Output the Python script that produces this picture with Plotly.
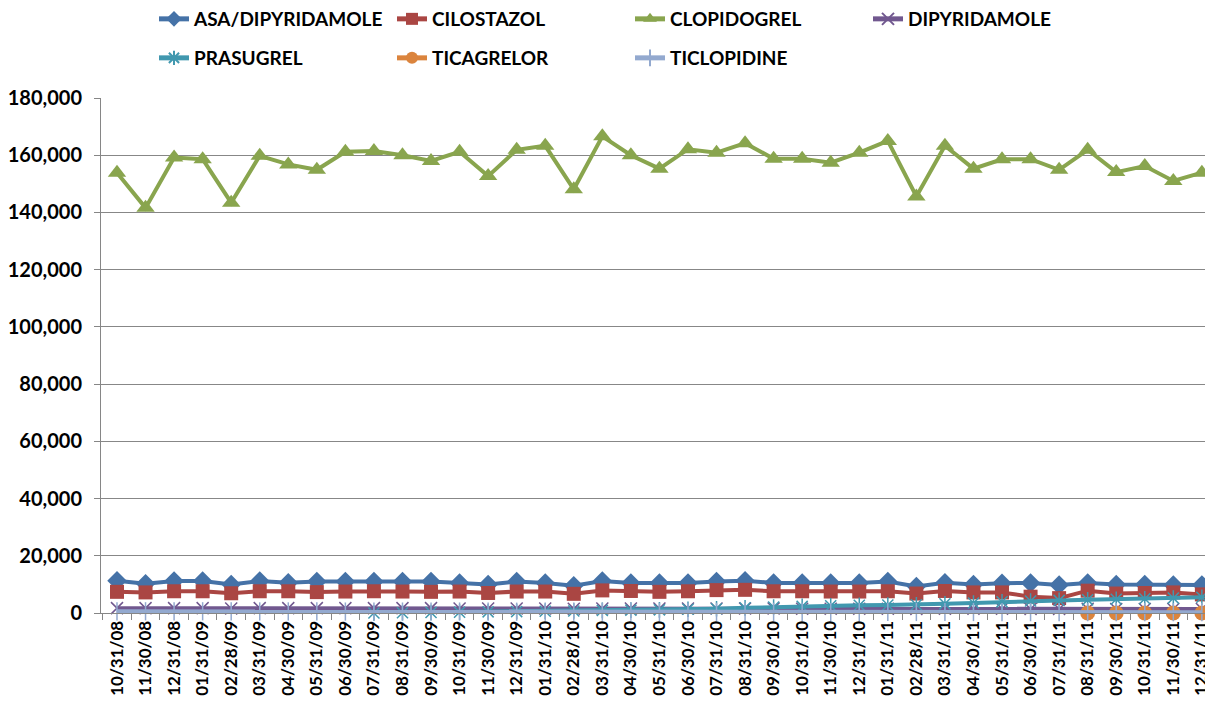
import plotly.graph_objects as go

dates = ['10/31/08', '11/30/08', '12/31/08', '01/31/09', '02/28/09', '03/31/09', '04/30/09',
         '05/31/09', '06/30/09', '07/31/09', '08/31/09', '09/30/09', '10/31/09', '11/30/09',
         '12/31/09', '01/31/10', '02/28/10', '03/31/10', '04/30/10', '05/31/10', '06/30/10',
         '07/31/10', '08/31/10', '09/30/10', '10/31/10', '11/30/10', '12/31/10', '01/31/11',
         '02/28/11', '03/31/11', '04/30/11', '05/31/11', '06/30/11', '07/31/11', '08/31/11',
         '09/30/11', '10/31/11', '11/30/11', '12/31/11']

asa_dipyridamole = [11300, 10200, 11200, 11200, 10000, 11200, 10600, 11000, 11000, 11000,
                    11000, 11000, 10500, 10000, 11000, 10500, 9500, 11200, 10500, 10500,
                    10500, 11000, 11300, 10500, 10500, 10500, 10500, 11000, 9300, 10600,
                    10000, 10400, 10500, 9800, 10500, 10000, 10000, 9800, 9800]
cilostazol = [7400, 7200, 7600, 7600, 6900, 7600, 7600, 7300, 7500, 7600,
              7500, 7400, 7500, 7000, 7500, 7500, 6700, 7900, 7700, 7400,
              7600, 8000, 8100, 7600, 7600, 7500, 7500, 7600, 6800, 7700,
              7200, 7200, 5700, 5200, 7800, 6800, 7000, 7200, 6500]
clopidogrel = [153900, 141600, 159200, 158600, 143400, 159800, 156800, 154900, 161200, 161500,
               160000, 158000, 161200, 152700, 161900, 163300, 148100, 166600, 160000, 155300,
               162100, 160900, 164200, 158800, 158800, 157400, 160900, 165000, 145600, 163300,
               155300, 158600, 158600, 154900, 161900, 154100, 156200, 151000, 153900]
dipyridamole = [1700, 1700, 1700, 1700, 1600, 1700, 1700, 1700, 1700, 1700,
                1700, 1700, 1600, 1600, 1600, 1600, 1500, 1600, 1600, 1600,
                1600, 1600, 1600, 1600, 1500, 1500, 1500, 1500, 1400, 1500,
                1500, 1500, 1400, 1400, 1500, 1400, 1400, 1400, 1400]
prasugrel = [None] * 9 + [0, 100, 200, 300, 400, 500, 600, 700, 900, 1000,
                          1100, 1300, 1500, 1800, 2100, 2300, 2500, 2700, 2800, 2900,
                          3200, 3500, 3900, 4200, 4400, 4600, 4800, 5000, 5200, 5500]
ticagrelor = [None] * 34 + [0, 0, 0, 0, 0]
ticlopidine = [600, 600, 600, 600, 550, 550, 550, 550, 500, 500,
               500, 500, 500, 450, 450, 450, 450, 450, 450, 400,
               400, 400, 400, 400, 400, 350, 350, 350, 350, 350,
               350, 300, 300, 300, 300, 300, 300, 300, 300]

series = [
    ('ASA/DIPYRIDAMOLE', asa_dipyridamole, '#4572A7', 'diamond', 15, 'legend'),
    ('CILOSTAZOL', cilostazol, '#AA4643', 'square', 14, 'legend'),
    ('CLOPIDOGREL', clopidogrel, '#89A54E', 'triangle-up', 16, 'legend'),
    ('DIPYRIDAMOLE', dipyridamole, '#71588F', 'x-thin', 12, 'legend'),
    ('PRASUGREL', prasugrel, '#4198AF', 'asterisk', 13, 'legend2'),
    ('TICAGRELOR', ticagrelor, '#DB843D', 'circle', 15, 'legend2'),
    ('TICLOPIDINE', ticlopidine, '#93A9CF', 'line-ns', 13, 'legend2'),
]

font_name = 'Lato'
# page body has an 8px margin, so the figure is made 8px smaller
W, H = 1205, 704

fig = go.Figure()
for name, vals, color, symbol, size, leg in series:
    thin = symbol in ('x-thin', 'asterisk', 'line-ns')
    fig.add_trace(go.Scatter(
        x=dates, y=vals, name=name, mode='lines+markers', legend=leg, cliponaxis=False,
        line=dict(color=color, width=4),
        marker=dict(symbol=symbol, size=size, color=color,
                    line=dict(color=color, width=1.5 if thin else 0)),
    ))

legend_style = dict(orientation='h', xref='container', yref='container', x=146 / W,
                    xanchor='left', yanchor='middle', entrywidth=193, entrywidthmode='pixels',
                    font=dict(family=font_name, size=19, color='#000000'),
                    bgcolor='rgba(0,0,0,0)', itemsizing='constant')

fig.update_layout(
    width=W, height=H,
    margin=dict(l=93, r=0, t=90, b=99),
    plot_bgcolor='white', paper_bgcolor='white',
    font=dict(family=font_name, size=17, color='#000000', weight='bold'),
    showlegend=True,
    legend=dict(legend_style, y=1 - 11 / H),
    legend2=dict(legend_style, y=1 - 50 / H),
)

fig.update_xaxes(
    type='category', range=[-0.56, 38.39], tickangle=-90, tickson='boundaries',
    ticks='outside', ticklen=6, tickcolor='#868686', showgrid=False,
    showline=True, linecolor='#868686', linewidth=1, automargin=False,
    tickfont=dict(family=font_name, size=17, weight='bold'),
)
fig.update_yaxes(
    range=[0, 180000], dtick=20000, tickformat=',d', ticks='outside', ticklen=6,
    tickcolor='#868686', showgrid=True, gridcolor='#878787', gridwidth=1,
    showline=True, linecolor='#868686', linewidth=1, zeroline=False, automargin=False,
    ticklabelstandoff=8,
    tickfont=dict(family=font_name, size=20, weight='bold'),
)

fig.write_html("out.html")
